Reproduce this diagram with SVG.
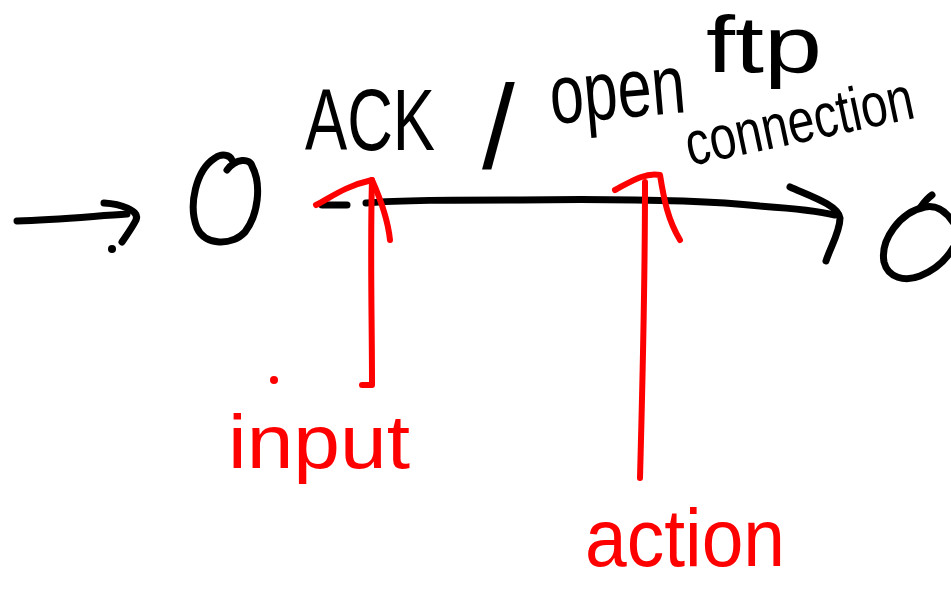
<svg xmlns="http://www.w3.org/2000/svg" width="951" height="589" viewBox="0 0 951 589">
<style>
.ink{fill:none;stroke:#000;stroke-width:7;stroke-linecap:round;stroke-linejoin:round}
.red{fill:none;stroke:#ff0000;stroke-width:6;stroke-linecap:round;stroke-linejoin:round}
.t{font-family:"Liberation Sans",Arial,sans-serif;fill:#000}
.tr{font-family:"Liberation Sans",Arial,sans-serif;fill:#ff0000}
</style>
<rect width="951" height="589" fill="#fff"/>
<g id="s1">
<path class="ink" d="M227,170 C236,158 250,158 252,166 C262,185 258,215 245,232 C232,246 205,246 197,228 C188,205 196,170 215,158 C222,153 230,155 232,160"/>
</g>
<g id="s2">
<path class="ink" d="M920,208 C925,201 929,197 932,195"/>
<path class="ink" d="M953,222 C945,210 935,205 925,207 C900,212 880,240 884,262 C888,278 905,282 920,276 C935,270 946,260 953,248"/>
</g>
<g id="connectors">
<path class="ink" d="M17,221 C55,220 95,216 127,214"/>
<path class="ink" d="M104,203 C120,204 140,210 136,220 C132,228 126,236 122,242"/>
<circle cx="112" cy="249" r="4" fill="#000"/>
<path class="ink" d="M322,205 L347,205"/>
<path class="ink" d="M366,203 C400,200 450,200 520,200 C600,199 700,200 760,206 C790,208 815,210 835,215"/>
<path class="ink" d="M790,187 C810,196 838,205 840,218 C840,232 830,248 826,261"/>
</g>
<g id="label">
<text class="t" x="305" y="150" font-size="88" textLength="130" lengthAdjust="spacingAndGlyphs">ACK</text>
<text class="t" x="482" y="168" font-size="118">/</text>
<text class="t" x="552" y="124" font-size="84" textLength="136" lengthAdjust="spacingAndGlyphs" transform="rotate(-5 552 124)">open</text>
<text class="t" x="706" y="72" font-size="80" textLength="116" lengthAdjust="spacingAndGlyphs">ftp</text>
<g transform="rotate(-12 690 166)">
<text class="t" x="690" y="166" font-size="62" textLength="232" lengthAdjust="spacingAndGlyphs">connection</text>
</g>
</g>
<g id="input-note">
<path class="red" d="M362,385 L372,385 C372,320 370,250 372,180"/>
<path class="red" d="M316,205 C330,198 345,186 372,180 C380,198 388,220 390,240"/>
<circle cx="274" cy="380" r="4" fill="#ff0000"/>
<text class="tr" x="228" y="468" font-size="76" textLength="182" lengthAdjust="spacingAndGlyphs">input</text>
</g>
<g id="action-note">
<path class="red" d="M640,478 C642,400 645,300 645,182"/>
<path class="red" d="M615,190 C630,182 645,172 660,175 C664,200 668,220 680,240"/>
<text class="tr" x="585" y="566" font-size="82" textLength="200" lengthAdjust="spacingAndGlyphs">action</text>
</g>
</svg>
